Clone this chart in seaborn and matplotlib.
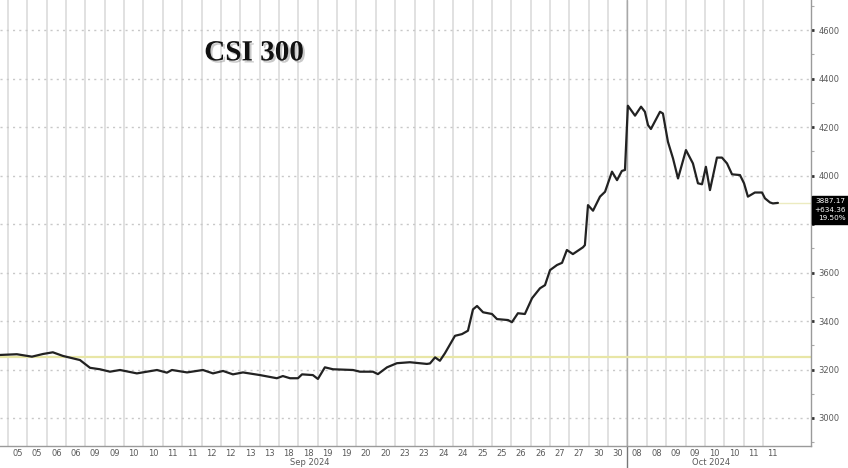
import matplotlib
matplotlib.use("Agg")
import matplotlib.pyplot as plt
import matplotlib.patheffects as pe
from matplotlib.ticker import MultipleLocator, FixedLocator, NullFormatter
from matplotlib.transforms import blended_transform_factory
import numpy as np
import pandas as pd
import seaborn as sns

# ---------------- data ----------------
session_labels = ["05", "05", "06", "06", "09", "09", "10", "10", "11", "11",
                  "12", "12", "13", "13", "18", "18", "19", "19", "20", "20",
                  "23", "23", "24", "24", "25", "25", "26", "26", "27", "27",
                  "30", "30", "08", "08", "09", "09", "10", "10", "11", "11"]
month_labels = ["Sep 2024", "Oct 2024"]

# position in half-day sessions (0 = first session boundary)
session_pos = [-0.41, 0.46, 1.24, 1.81, 2.32, 2.84, 3.72, 4.24, 4.75, 5.27,
               5.79, 6.66, 7.70, 8.21, 8.47, 9.25, 10.07, 10.59, 11.11, 11.62,
               12.14, 13.02, 13.89, 14.20, 14.57, 14.98, 15.19, 15.75, 16.01, 16.37,
               16.79, 17.82, 18.18, 18.85, 19.11, 19.58, 20.09, 20.76, 21.64,
               21.80, 22.06, 22.31, 22.57, 23.09, 23.45, 23.76, 24.02, 24.23, 24.54,
               25.00, 25.26, 25.83, 26.03, 26.34, 26.70, 27.07, 27.48, 27.74, 28.00,
               28.36, 28.62, 28.87, 29.18, 29.70, 29.80, 29.96, 30.22, 30.58, 30.84,
               31.20, 31.46, 31.71, 31.87,
               32.02, 32.39, 32.70, 32.90, 33.06, 33.21, 33.68, 33.83, 34.09, 34.35,
               34.61, 35.02, 35.38, 35.64, 35.85, 36.05, 36.26, 36.62, 36.88, 37.14,
               37.40, 37.81, 38.02, 38.22, 38.58, 38.95, 39.10, 39.36, 39.51, 39.77]
csi300 = [3260, 3263, 3253, 3264, 3271, 3256, 3239, 3207, 3201, 3191,
          3198, 3184, 3198, 3187, 3198, 3188, 3198, 3184, 3194, 3180,
          3188, 3177, 3164, 3173, 3164, 3164, 3180, 3177, 3161, 3209,
          3201, 3198, 3191, 3191, 3181, 3209, 3226, 3230, 3223,
          3225, 3250, 3236, 3267, 3339, 3346, 3360, 3448, 3462, 3436,
          3429, 3408, 3404, 3395, 3432, 3429, 3494, 3535, 3548, 3610,
          3631, 3640, 3693, 3676, 3704, 3713, 3878, 3855, 3913, 3933,
          4016, 3981, 4019, 4023,
          4288, 4247, 4284, 4263, 4208, 4192, 4263, 4256, 4139, 4071,
          3988, 4105, 4050, 3968, 3964, 4036, 3940, 4074, 4074, 4050,
          4005, 4002, 3968, 3913, 3930, 3930, 3906, 3889, 3885, 3887.17]

last_value = 3887.17
change_pts = 634.36
change_pct = 19.50
base_value = last_value - change_pts
y_major = list(range(3000, 4601, 200))
y_hidden = [3800]  # label covered by the last-value box

df = pd.DataFrame({"pos": session_pos, "value": csi300})

# ---------------- figure ----------------
sns.set_style("white")
plt.rcParams["font.family"] = ["DejaVu Sans"]

fig = plt.figure(figsize=(8.48, 4.68), dpi=100)
ax = fig.add_axes([0.0, 0.047, 0.9564, 0.953])
x0, x1 = -0.41, 41.48
ax.set_xlim(x0, x1)
ax.set_ylim(2884.5, 4724)

# grid lines
n = len(session_labels)
ax.xaxis.set_major_locator(FixedLocator(list(range(n))))
ax.xaxis.set_major_formatter(NullFormatter())
ax.xaxis.set_minor_locator(FixedLocator([i + 0.5 for i in range(n)]))
ax.set_xticklabels(session_labels, minor=True)
ax.tick_params(axis="x", which="both", length=0)
ax.tick_params(axis="x", which="minor", labelsize=6, labelcolor="#5a5a5a", pad=2.5)
ax.grid(axis="x", which="major", color="#d8d8d8", linewidth=1.1, linestyle="-")

ax.yaxis.tick_right()
ax.set_yticks(y_major)
ax.set_yticklabels(["" if v in y_hidden else str(v) for v in y_major])
ax.yaxis.set_minor_locator(MultipleLocator(100))
ax.tick_params(axis="y", which="major", length=2.5, width=2, color="#333333",
               labelsize=6, labelcolor="#5a5a5a", pad=3, direction="out")
ax.tick_params(axis="y", which="minor", length=2, width=0.8, color="#aaaaaa",
               direction="out")
ax.yaxis.grid(True, which="major", color="#c8c8c8", linestyle=(0, (1.5, 3)),
              linewidth=1.0)
ax.set_axisbelow(True)

for s in ["left", "top"]:
    ax.spines[s].set_visible(False)
for s in ["right", "bottom"]:
    ax.spines[s].set_color("#9a9a9a")
    ax.spines[s].set_linewidth(1.0)

# month separator
sep_pos = session_labels.index("08")
trans_xa = blended_transform_factory(ax.transData, ax.transAxes)
ax.axvline(sep_pos, color="#a8a8a8", linewidth=1.0, zorder=1)
ax.plot([sep_pos, sep_pos], [0, -0.047 / 0.953], transform=trans_xa,
        color="#777777", linewidth=1.0, clip_on=False)

# month labels
ax.text(15.6, -0.037, month_labels[0], transform=trans_xa, ha="center", va="center",
        fontsize=6, color="#5a5a5a")
ax.text(36.3, -0.037, month_labels[1], transform=trans_xa, ha="center", va="center",
        fontsize=6, color="#5a5a5a")

# reference lines
ax.axhline(base_value, color="#e8e6a6", linewidth=1.6, zorder=2)
ax.axhline(last_value, xmin=(session_pos[-1] - x0) / (x1 - x0), xmax=1,
           color="#ecebc0", linewidth=1.0, zorder=2)

# main line
sns.lineplot(data=df, x="pos", y="value", ax=ax, color="#222222", linewidth=1.6,
             sort=False, estimator=None, zorder=3)
ax.set_xlabel("")
ax.set_ylabel("")

# last value box
trans_ay = blended_transform_factory(ax.transAxes, ax.transData)
ax.annotate(f"{last_value:.2f}\n+{change_pts:.2f}\n{change_pct:.2f}%",
            xy=(1, last_value), xycoords=trans_ay, xytext=(3, 5),
            textcoords="offset pixels", ha="left", va="top", color="white",
            fontsize=5.2, multialignment="right", linespacing=1.55,
            bbox=dict(boxstyle="square,pad=0.3", fc="black", ec="black"),
            annotation_clip=False, zorder=5)

# title
fig.text(0.2995, 0.887, "CSI 300", ha="center", va="center",
         fontfamily="Liberation Serif", fontweight="bold", fontsize=21,
         color="#111111",
         path_effects=[pe.SimplePatchShadow(offset=(1.5, -1.5), shadow_rgbFace="#888888", alpha=0.45),
                       pe.Normal()])

fig.savefig("out.png", dpi=100)
